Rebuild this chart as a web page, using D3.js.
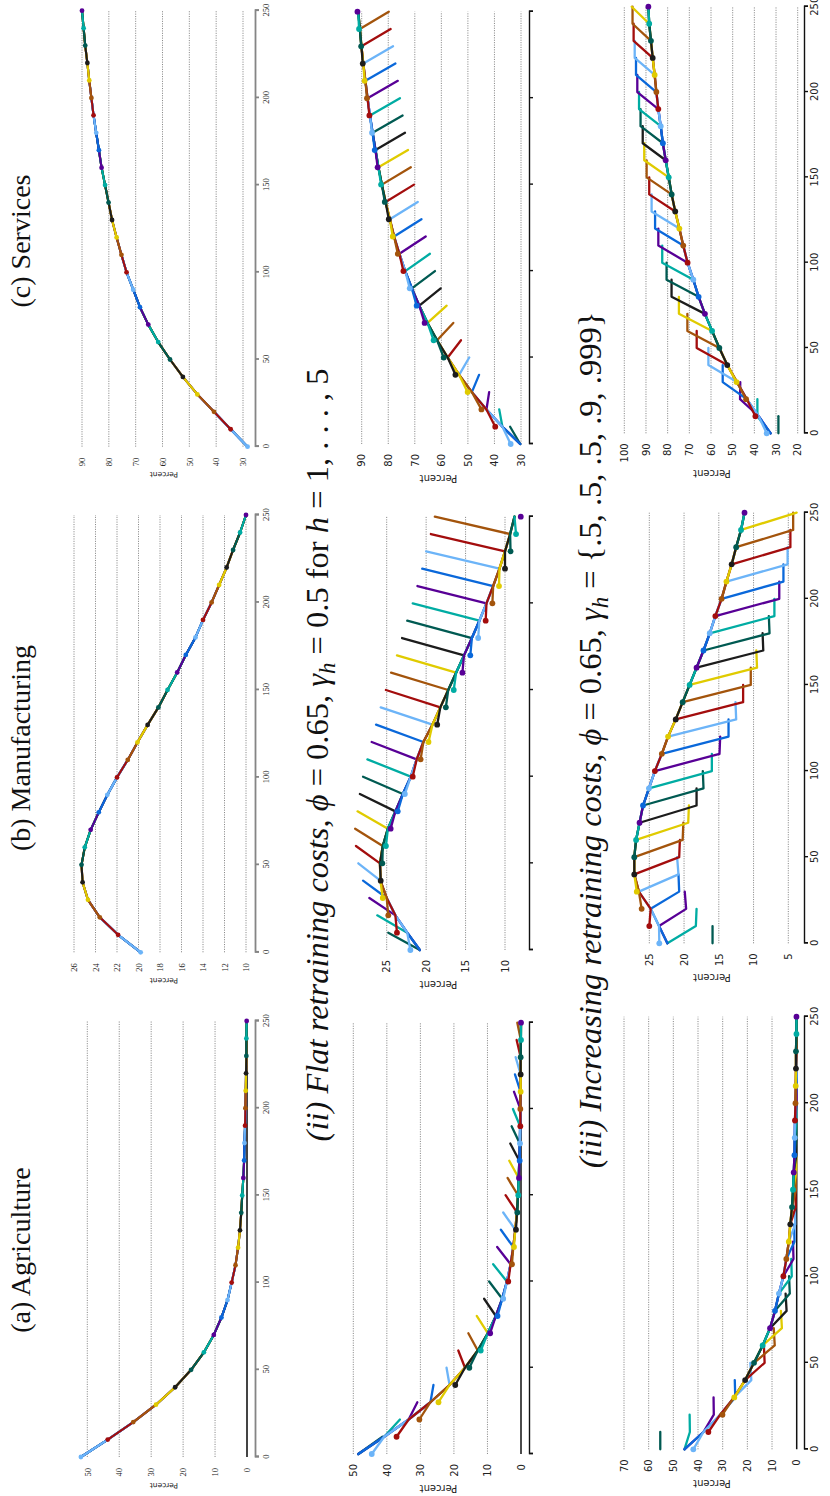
<!DOCTYPE html>
<html>
<head>
<meta charset="utf-8">
<title>Sector shares by cohort</title>
<script src="https://cdn.jsdelivr.net/npm/d3@7/dist/d3.min.js"></script>
<style>
  body { margin: 0; background: #fff; }
  svg { display: block; }
  text { white-space: pre; }
</style>
</head>
<body>
<div id="chart"></div>
<script>
// periods on the time axis and the entry date of every cohort drawn
const years = [0, 10, 20, 30, 40, 50, 60, 70, 80, 90, 100, 110, 120, 130, 140, 150, 160, 170, 180, 190, 200, 210, 220, 230, 240, 250];
const cohorts = [-40, -30, -20, -10, 0, 10, 20, 30, 40, 50, 60, 70, 80, 90, 100, 110, 120, 130, 140, 150, 160, 170, 180, 190, 200, 210, 220, 230, 240, 250];
const cohortColors = ["#6cb4f8", "#a30d0d", "#a3540c", "#e0cb00", "#1c1c1c", "#005a52", "#00aca3", "#580096", "#0a68da"];
const timeTicks = [0, 50, 100, 150, 200, 250];

// (a)-(c): every cohort sits on the same path
const agriculture   = [52, 43.6, 35.6, 28.5, 22.5, 17.5, 13.5, 10.4, 8.0, 6.1, 4.8, 3.6, 2.8, 2.2, 1.8, 1.5, 1.15, 0.9, 0.8, 0.6, 0.5, 0.4, 0.3, 0.2, 0.2, 0.1];
const manufacturing = [19.8, 21.9, 23.6, 24.7, 25.2, 25.3, 25.0, 24.45, 23.7, 22.9, 22.0, 21.0, 20.1, 19.15, 18.15, 17.3, 16.4, 15.6, 14.7, 14.0, 13.2, 12.5, 11.8, 11.2, 10.55, 10.0];
const services      = [28.3, 34.6, 40.8, 47.0, 52.4, 57.2, 61.6, 65.3, 68.4, 70.9, 73.4, 75.3, 77.1, 78.8, 80.1, 81.4, 82.7, 83.7, 84.7, 85.7, 86.5, 87.3, 88.0, 88.8, 89.4, 90.0];

// (ii) flat retraining costs: entry value, common path, last period (t = 10..250)
const agriFlatPath  = [48.5, 40.8, 33.5, 27.0, 21.3, 16.7, 12.9, 9.9, 7.5, 5.6, 4.2, 3.1, 2.3, 1.7, 1.2, 0.9, 0.7, 0.5, 0.35, 0.25, 0.2, 0.15, 0.1, 0.1, 0.05, 0];
const agriFlatEntry = [44.5, 37.1, 30.3, 24.6, 19.6, 15.4, 12.0, 9.2, 7.0, 5.3, 3.8, 2.7, 2.1, 1.5, 1.1, 0.8, 0.6, 0.4, 0.3, 0.2, 0.2, 0.1, 0.1, 0.1, 0, 0];
const agriFlatExit  = [41.3, 36.1, 30.9, 26.1, 22.2, 18.7, 15.7, 13.2, 11.0, 9.5, 8.3, 7.1, 6.0, 5.3, 4.6, 4.0, 3.5, 3.2, 2.8, 2.4, 2.1, 1.8, 1.6, 1.3, 1.1];
const manuFlatPath  = [20.8, 22.4, 23.9, 25.0, 25.8, 25.85, 25.5, 24.85, 23.9, 22.95, 21.95, 21.2, 20.35, 19.2, 18.2, 17.2, 16.2, 15.2, 14.2, 13.25, 12.35, 11.5, 10.7, 10.0, 9.35, 8.8];
const manuFlatEntry = [22.0, 23.7, 24.8, 25.5, 25.76, 25.55, 25.1, 24.5, 23.6, 22.7, 21.7, 20.7, 19.7, 18.6, 17.5, 16.5, 15.4, 14.4, 13.4, 12.45, 11.6, 10.76, 10.0, 9.3, 8.6, 8.0];
const manuFlatExit  = [24.8, 26.2, 27.2, 28.0, 28.6, 28.9, 29.0, 28.7, 28.4, 28.0, 27.45, 26.9, 26.35, 25.76, 25.1, 24.45, 23.7, 23.05, 22.4, 21.7, 21.1, 20.5, 20.0, 19.4, 18.9];
const servFlatPath  = [30.3, 37.0, 43.0, 48.5, 53.3, 57.6, 61.6, 65.2, 68.3, 71.1, 73.6, 75.8, 77.8, 79.4, 81.0, 82.4, 83.7, 84.8, 85.9, 86.9, 87.8, 88.6, 89.4, 90.1, 90.7, 91.3];
const servFlatEntry = [33.9, 39.7, 44.9, 50.1, 54.7, 59.1, 62.9, 66.3, 69.3, 71.9, 74.3, 76.4, 78.3, 79.8, 81.3, 82.7, 84.0, 85.1, 86.1, 87.1, 88.0, 88.9, 89.6, 90.2, 91.0, 91.6];
const servFlatExit  = [34.1, 38.2, 42.0, 45.8, 49.5, 52.6, 55.5, 58.0, 60.25, 62.4, 64.3, 65.9, 67.5, 68.9, 70.3, 71.5, 72.55, 73.7, 74.6, 75.6, 76.4, 77.3, 78.2, 79.1, 79.8];

// (iii) increasing retraining costs: entry, common path, 4th period (t = 0..250), 5th period (t = 10..250)
const agriIncEntry = [41.9, 35.8, 30.1, 25.3, 20.9, 17.3, 13.8, 10.8, 8.8, 7.2, 5.4, 4.2, 3.2, 2.6, 1.9, 1.5, 1.2, 0.9, 0.8, 0.7, 0.5, 0.4, 0.3, 0.3, 0.1, 0.1];
const agriIncPath  = [45.5, 37.8, 31.0, 25.4, 20.9, 17.3, 13.8, 10.8, 8.8, 7.2, 5.4, 4.2, 3.2, 2.6, 1.9, 1.5, 1.2, 0.9, 0.8, 0.7, 0.5, 0.4, 0.3, 0.3, 0.1, 0.1];
const agriIncDrop  = [55.3, 43.3, 33.6, 24.9, 18.4, 13.0, 8.9, 6.0, 4.1, 2.8, 2.0, 1.3, 0.9, 0.6, 0.4, 0.3, 0.2, 0.15, 0.1, 0.1, 0.05, 0.05, 0, 0, 0, 0];
const agriIncTail  = [55.3, 43.4, 33.7, 25.1, 18.8, 13.3, 9.3, 6.4, 4.5, 3.1, 2.2, 1.5, 1.0, 0.7, 0.5, 0.3, 0.2, 0.15, 0.1, 0.1, 0.05, 0.05, 0, 0, 0];
const manuIncEntry = [23.56, 25.0, 26.1, 26.8, 27.16, 27.16, 26.9, 26.4, 25.9, 25.05, 24.2, 23.2, 22.3, 21.2, 20.2, 19.2, 18.2, 17.2, 16.3, 15.5, 14.6, 13.9, 13.15, 12.5, 11.8, 11.3];
const manuIncPath  = [22.4, 23.6, 24.8, 26.5, 27.16, 27.16, 26.9, 26.4, 25.9, 25.05, 24.2, 23.2, 22.3, 21.2, 20.2, 19.2, 18.2, 17.2, 16.3, 15.5, 14.6, 13.9, 13.15, 12.5, 11.8, 11.3];
const manuIncDrop  = [15.9, 18.3, 19.7, 20.7, 20.8, 20.7, 20.2, 19.4, 18.2, 17.2, 16.0, 14.9, 13.6, 12.5, 11.5, 10.4, 9.5, 8.6, 7.7, 7.0, 6.3, 5.7, 5.1, 4.7, 4.3, 3.8];
const manuIncTail  = [15.9, 18.2, 19.9, 20.8, 21.0, 20.6, 20.1, 19.3, 18.2, 17.3, 16.0, 14.8, 13.6, 12.6, 11.5, 10.4, 9.6, 8.7, 7.8, 7.0, 6.3, 5.7, 5.1, 4.7, 4.3];
const servIncEntry = [34.3, 39.5, 43.8, 48.2, 52.5, 56.15, 59.5, 62.8, 65.7, 68.15, 70.8, 72.8, 74.6, 76.5, 78.15, 79.5, 80.9, 82.2, 83.2, 84.3, 85.2, 86.0, 86.9, 87.7, 88.5, 88.9];
const servIncPath  = [32.5, 38.0, 43.5, 48.0, 52.5, 56.15, 59.5, 62.8, 65.7, 68.15, 70.8, 72.8, 74.6, 76.5, 78.15, 79.5, 80.9, 82.2, 83.2, 84.3, 85.2, 86.0, 86.9, 87.7, 88.5, 88.9];
const servIncDrop  = [28.9, 38.6, 46.6, 54.6, 61.2, 66.6, 70.9, 74.8, 78.2, 80.5, 82.5, 84.3, 85.8, 87.4, 88.5, 89.7, 90.8, 91.5, 92.5, 93.2, 94.0, 94.6, 95.2, 95.7, 96.2, 96.6];
const servIncTail  = [28.9, 38.6, 46.5, 54.6, 61.2, 66.6, 70.9, 74.8, 78.2, 80.5, 82.5, 84.3, 85.8, 87.4, 88.5, 89.7, 90.8, 91.5, 92.5, 93.2, 94.0, 94.6, 95.2, 95.7, 96.2];

// y tick labels
const agriTicks = [0, 10, 20, 30, 40, 50];
const manuTicks = [10, 12, 14, 16, 18, 20, 22, 24, 26];
const servTicks = [30, 40, 50, 60, 70, 80, 90];
const manuFlatTicks = [10, 15, 20, 25];
const agriIncTicks = [0, 10, 20, 30, 40, 50, 60, 70];
const manuIncTicks = [5, 10, 15, 20, 25];
const servIncTicks = [20, 30, 40, 50, 60, 70, 80, 90, 100];

const sectorTitles = ["(a) Agriculture", "(b) Manufacturing", "(c) Services"];

// the figure is laid out landscape and then turned a quarter turn
const W = 1496, H = 830;
const svg = d3.select("#chart").append("svg")
  .attr("width", H).attr("height", W);
const fig = svg.append("g").attr("transform", `translate(0,${W}) rotate(-90)`);

const rows = [
  {top: 73, axisY: 255, small: true},
  {top: 348, axisY: 529, small: false},
  {top: 620, axisY: 804, small: false}
];

const panels = [
  {row: 0, x0: 39, x1: 475, yd: [0, 50], yr: [247, 87.3], ticks: agriTicks, path: agriculture},
  {row: 0, x0: 543.7, x1: 981, yd: [10, 26], yr: [246, 74], ticks: manuTicks, path: manufacturing},
  {row: 0, x0: 1049.3, x1: 1485.3, yd: [30, 90], yr: [243, 82], ticks: servTicks, path: services},
  {row: 1, x0: 42, x1: 473.3, yd: [0, 50], yr: [521, 353.3], ticks: agriTicks, entry: agriFlatEntry, path: agriFlatPath, last: agriFlatExit},
  {row: 1, x0: 546, x1: 979.3, yd: [10, 25], yr: [505, 386.7], ticks: manuFlatTicks, entry: manuFlatEntry, path: manuFlatPath, last: manuFlatExit},
  {row: 1, x0: 1052, x1: 1484.3, yd: [30, 90], yr: [521, 361.7], ticks: servTicks, entry: servFlatEntry, path: servFlatPath, last: servFlatExit},
  {row: 2, x0: 46.7, x1: 479.3, yd: [0, 70], yr: [796.7, 624], ticks: agriIncTicks, entry: agriIncEntry, path: agriIncPath, fourth: agriIncDrop, last: agriIncTail},
  {row: 2, x0: 552.7, x1: 983.3, yd: [5, 25], yr: [788.3, 649.3], ticks: manuIncTicks, entry: manuIncEntry, path: manuIncPath, fourth: manuIncDrop, last: manuIncTail},
  {row: 2, x0: 1062.7, x1: 1489.3, yd: [20, 100], yr: [797.7, 624.3], ticks: servIncTicks, entry: servIncEntry, path: servIncPath, fourth: servIncDrop, last: servIncTail}
];

// value of a cohort k periods after entry, observed at time t
function valueAt(p, k, t) {
  const i = years.indexOf(t);
  if (k === 0) return (p.entry || p.path)[i];
  if (k === 4 && p.fourth) return p.fourth[i];
  if (k === 5 && p.last) return p.last[i - 1];
  return p.path[i];
}

panels.forEach(p => {
  const r = rows[p.row];
  const x = d3.scaleLinear([0, 250], [p.x0, p.x1]);
  const y = d3.scaleLinear(p.yd, p.yr);
  const g = fig.append("g");
  const sans = "'DejaVu Sans', Verdana, sans-serif";

  // grid lines, solid at zero
  g.append("g").selectAll("line").data(p.ticks).join("line")
    .attr("x1", p.x0).attr("x2", p.x1)
    .attr("y1", d => y(d)).attr("y2", d => y(d))
    .attr("stroke", d => d === 0 ? (r.small ? "#444" : "#111") : "#7d7d7d")
    .attr("stroke-width", d => d === 0 ? (r.small ? 2 : 1.5) : 0.9)
    .attr("stroke-dasharray", d => d === 0 ? null : "1.1,1.3");

  // y labels
  const gap = r.small ? 11 : 10;
  const yAxis = g.append("g").attr("transform", `translate(${p.x0},0)`)
    .call(d3.axisLeft(y).tickValues(p.ticks).tickSize(0).tickPadding(gap));
  yAxis.select(".domain").remove();
  yAxis.selectAll("text")
    .attr("font-family", r.small ? "'Liberation Serif', serif" : sans)
    .attr("font-size", r.small ? 8.5 : 10)
    .attr("fill", "#222");
  const labelW = d3.max(yAxis.selectAll("text").nodes(), n => n.getComputedTextLength());

  g.append("text")
    .attr("transform", `translate(${p.x0 - gap - labelW - (r.small ? 6 : 8)},${(r.top + r.axisY) / 2}) rotate(-90)`)
    .attr("text-anchor", "middle")
    .attr("font-family", sans)
    .attr("font-size", r.small ? 7.5 : 10)
    .attr("fill", "#222")
    .text("Percent");

  // time axis
  const xAxis = g.append("g").attr("transform", `translate(0,${r.axisY})`)
    .call(d3.axisBottom(x).tickValues(timeTicks).tickSize(4).tickPadding(r.small ? 4 : 3)
      .tickFormat(p.row === 1 ? () => "" : d3.format("d")));
  xAxis.selectAll("path, line")
    .attr("stroke", r.small ? "#858585" : "#111")
    .attr("stroke-width", r.small ? 1.8 : 1.4);
  xAxis.selectAll("text")
    .attr("font-family", r.small ? "'Liberation Serif', serif" : sans)
    .attr("font-size", r.small ? 8.5 : 10)
    .attr("fill", "#222");

  // cohorts, oldest first so later entrants sit on top
  const line = d3.line().x(d => x(d[0])).y(d => y(d[1]));
  const lw = r.small ? 2.1 : 2.3;
  const rad = r.small ? 2.4 : 2.9;
  cohorts.forEach(t0 => {
    const color = cohortColors[((t0 / 10) % 9 + 9) % 9];
    const pts = [];
    for (let k = 0; k <= 5; k++) {
      const t = t0 + 10 * k;
      if (t < 0 || t > 250) continue;
      pts.push([t, valueAt(p, k, t)]);
    }
    if (pts.length > 1) {
      g.append("path").attr("d", line(pts))
        .attr("fill", "none").attr("stroke", color)
        .attr("stroke-width", lw).attr("stroke-linejoin", "round").attr("stroke-linecap", "round");
    }
    if (t0 >= 0) {
      g.append("circle").attr("cx", x(t0)).attr("cy", y(valueAt(p, 0, t0)))
        .attr("r", rad).attr("fill", color);
    }
  });
});

// titles
const serif = "'Liberation Serif', 'DejaVu Serif', serif";
[246, 748, 1255].forEach((cx, i) => {
  fig.append("text").attr("x", cx).attr("y", 29.5)
    .attr("text-anchor", "middle").attr("font-family", serif)
    .attr("font-size", 28).attr("fill", "#111")
    .text(sectorTitles[i]);
});

function richTitle(cx, cy, size, parts) {
  const t = fig.append("text").attr("x", cx).attr("y", cy)
    .attr("text-anchor", "middle").attr("font-family", serif)
    .attr("font-size", size).attr("fill", "#111");
  let down = false;
  parts.forEach(([str, style]) => {
    const s = t.append("tspan").text(str);
    if (style.includes("i")) s.attr("font-style", "italic");
    if (style.includes("s")) {
      s.attr("font-size", size * 0.7).attr("dy", size * 0.22);
      down = true;
    } else if (down) {
      s.attr("dy", -size * 0.22);
      down = false;
    }
  });
}

richTitle(741, 328, 32.5, [
  ["(ii) Flat retraining costs, ", "i"], ["\u03d5", "i"], [" = 0.65, ", "n"],
  ["\u03b3", "i"], ["h", "is"], [" = 0.5 for ", "n"], ["h", "i"], [" = 1, . . . , 5", "n"]
]);
richTitle(756, 601, 32.5, [
  ["(iii) Increasing retraining costs, ", "i"], ["\u03d5", "i"], [" = 0.65, ", "n"],
  ["\u03b3", "i"], ["h", "is"], [" = {.5, .5, .5, .9, .999}", "n"]
]);
</script>
</body>
</html>
